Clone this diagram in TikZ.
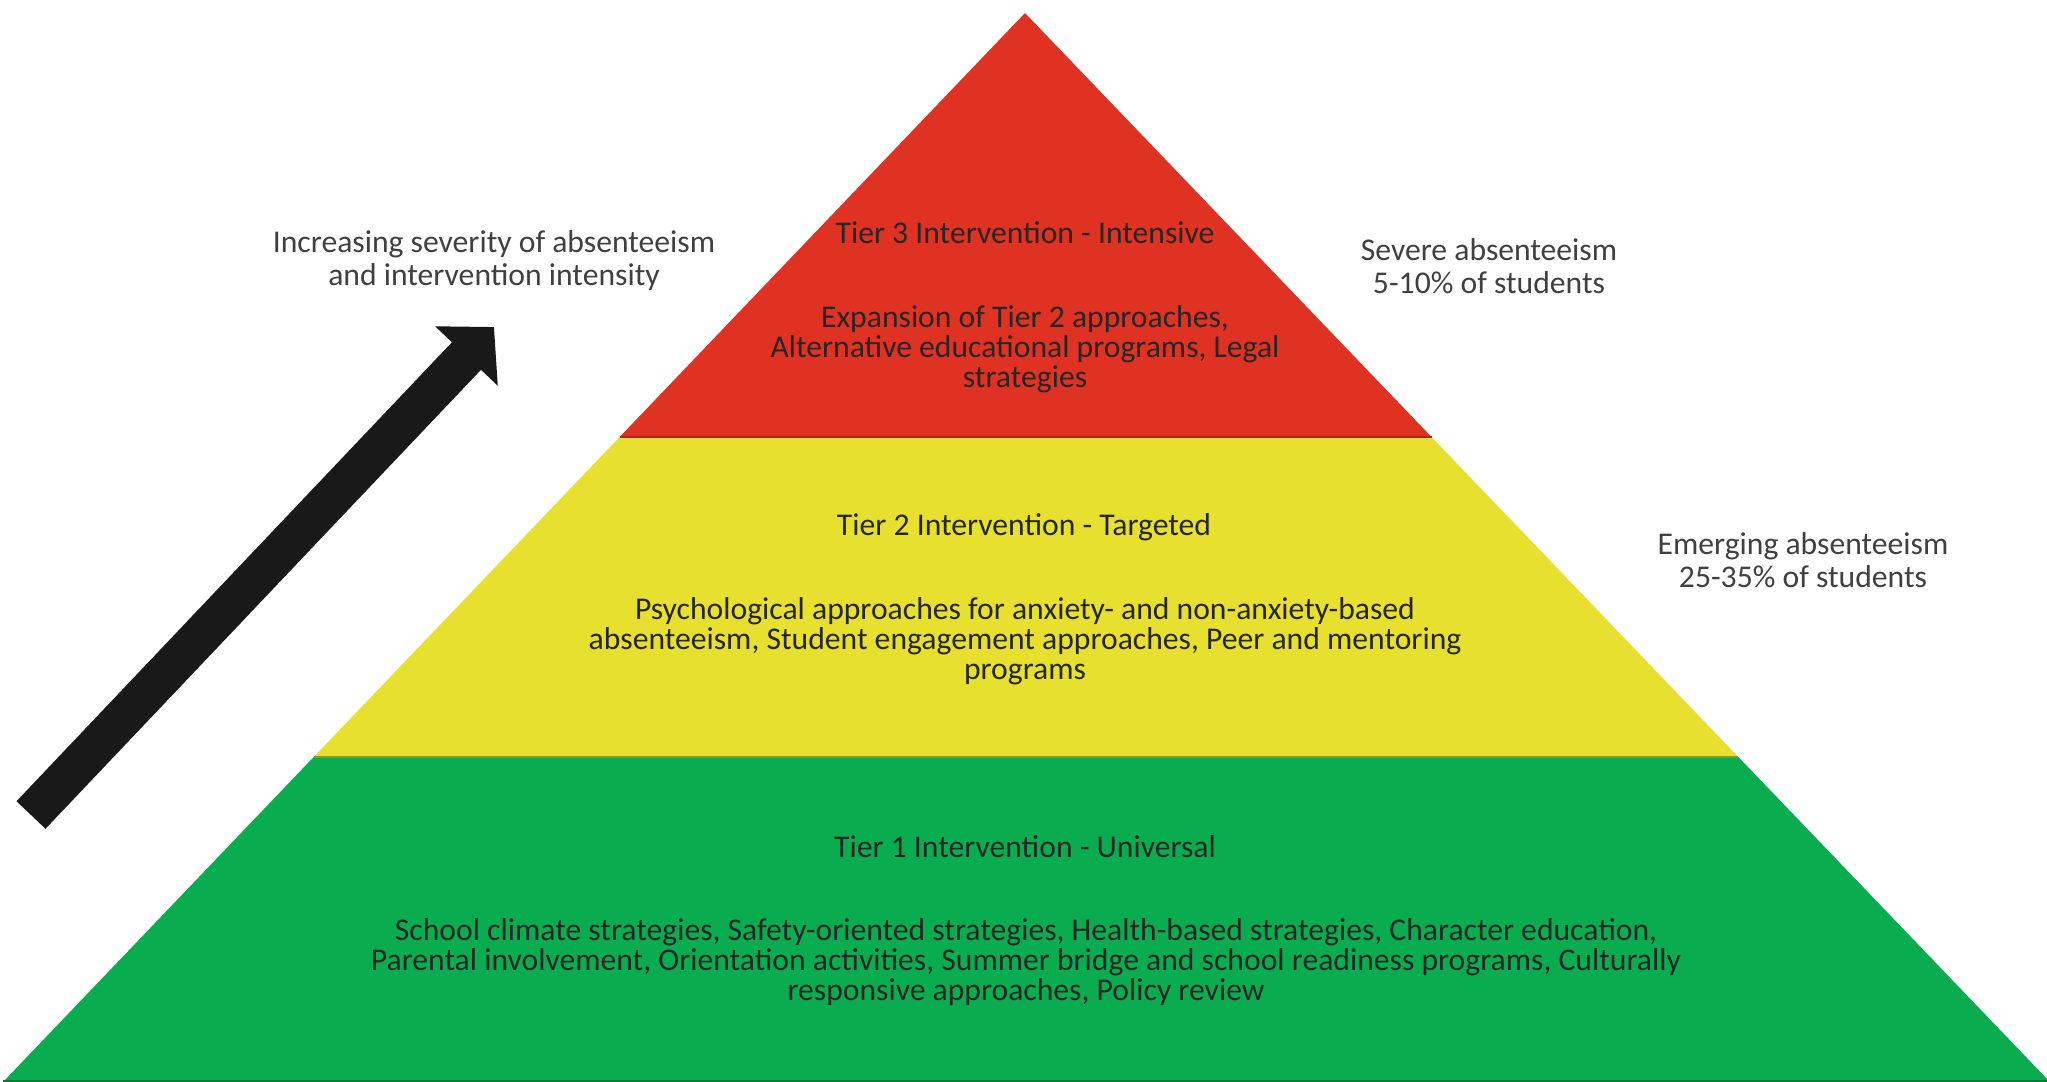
\documentclass[tikz,border=0pt]{standalone}
\usepackage{fontspec}
\setmainfont{Carlito}
\usetikzlibrary{calc,arrows.meta}

\definecolor{tierred}{RGB}{224,50,35}
\definecolor{tieryellow}{RGB}{232,224,46}
\definecolor{tiergreen}{RGB}{9,173,80}

\begin{document}
\begin{tikzpicture}[x=0.01cm, y=-0.01cm,
  tiertext/.style={text=black!85, font=\fontsize{9}{8.6}\selectfont, align=center},
  sidetext/.style={text=black!75, font=\fontsize{9}{9.4}\selectfont, align=center}]

\useasboundingbox (0,0) rectangle (2047,1082);

% Define corner points of the pyramid
\coordinate (Apex) at (1025, 13);
\coordinate (L1) at (3, 1082);
\coordinate (R1) at (2050, 1082);
\coordinate (L2) at ($(Apex)!0.696!(L1)$);
\coordinate (R2) at ($(Apex)!0.696!(R1)$);
\coordinate (L3) at ($(Apex)!0.3966!(L1)$);
\coordinate (R3) at ($(Apex)!0.3966!(R1)$);

% Arrow endpoints
\coordinate (Tail) at (31, 815);
\coordinate (Tip) at (494, 327);

% Draw the three tiers
\fill[tiergreen] (L1) -- (L2) -- (R2) -- (R1) -- cycle;
\fill[tieryellow] (L2) -- (L3) -- (R3) -- (R2) -- cycle;
\fill[tierred] (L3) -- (Apex) -- (R3) -- cycle;

% Seams between tiers
\draw[line width=0.6pt, tierred!80!black] (L3) -- (R3);
\draw[line width=0.6pt, tieryellow!60!tiergreen!80!black] (L2) -- (R2);
\draw[line width=1.1pt, tiergreen!70!black] (L1) -- (R1);

% Draw the arrow
\draw[line width=4mm, black!90, -{Triangle[length=4mm, width=8.4mm]}] (Tail) -- (Tip);

% Labels inside the tiers
\node[tiertext] (t3title) at (1025, 233) {Tier 3 Intervention - Intensive};
\node[tiertext] (t3body) at (1025, 349) {Expansion of Tier 2 approaches,\\Alternative educational programs, Legal\\strategies};

\node[tiertext] (t2title) at (1024, 527) {Tier 2 Intervention - Targeted};
\node[tiertext] (t2body) at (1025, 641) {Psychological approaches for anxiety- and non-anxiety-based\\absenteeism, Student engagement approaches, Peer and mentoring\\programs};

\node[tiertext] (t1title) at (1025, 847) {Tier 1 Intervention - Universal};
\node[tiertext] (t1body) at (1026, 962) {School climate strategies, Safety-oriented strategies, Health-based strategies, Character education,\\Parental involvement, Orientation activities, Summer bridge and school readiness programs, Culturally\\responsive approaches, Policy review};

% Labels beside the pyramid
\node[sidetext] (severity) at (494, 261) {Increasing severity of absenteeism\\and intervention intensity};
\node[sidetext] (severe) at (1489, 266) {Severe absenteeism\\5-10\% of students};
\node[sidetext] (emerging) at (1803, 560) {Emerging absenteeism\\25-35\% of students};

\end{tikzpicture}
\end{document}
